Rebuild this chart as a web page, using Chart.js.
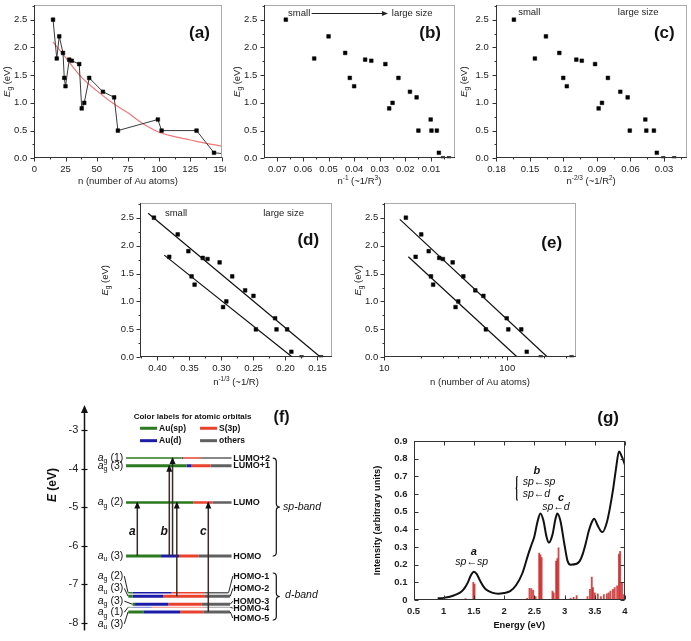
<!DOCTYPE html>
<html>
<head>
<meta charset="utf-8">
<script src="https://cdn.jsdelivr.net/npm/chart.js@4.4.1/dist/chart.umd.min.js"></script>
<style>
html,body{margin:0;padding:0;background:#fff;overflow:hidden;}
#wrap{position:relative;width:691px;height:641px;background:#fff;}
#wrap canvas{position:absolute;}
</style>
</head>
<body>
<div id="wrap"></div>
<script>
// ================= DATA =================
// Au cluster sizes and HOMO-LUMO gaps (panels a-e)
const clusterSizes = [15,18,20,23,24,25,28,30,36,38,40,44,55,64,67,99,102,130,144,187,333];
const gapEnergies  = [2.5,1.8,2.2,1.9,1.45,1.3,1.78,1.76,1.7,0.9,1.0,1.45,1.2,1.1,0.5,0.7,0.5,0.5,0.1,0,0];
const invSize   = [0.0667,0.0556,0.0500,0.0435,0.0417,0.0400,0.0357,0.0333,0.0278,0.0263,0.0250,0.0227,0.0182,0.0156,0.0149,0.0101,0.0098,0.0077,0.0069,0.0053,0.0030];
const invSize23 = [0.1644,0.1456,0.1357,0.1237,0.1202,0.1170,0.1085,0.1036,0.0917,0.0885,0.0855,0.0802,0.0691,0.0625,0.0606,0.0467,0.0458,0.0390,0.0364,0.0306,0.0208];
const invSize13 = [0.4055,0.3816,0.3684,0.3517,0.3467,0.3420,0.3293,0.3218,0.3029,0.2975,0.2924,0.2832,0.2630,0.2500,0.2462,0.2162,0.2140,0.1974,0.1908,0.1749,0.1443];
// red decay curve in (a)
const fitN  = [15,25,37.5,50,62.5,75,87.5,100,112.5,125,137.5,150];
const fitEg = [2.10,1.82,1.47,1.22,1.00,0.82,0.62,0.47,0.39,0.33,0.27,0.22];
// straight fits in (d) and (e)
const fitDUpperX = [0.4146,0.145], fitDUpperY = [2.58,0];
const fitDLowerX = [0.3894,0.189], fitDLowerY = [1.83,0];
const fitEUpperN = [13.4,213],     fitEUpperY = [2.47,0];
const fitELowerN = [15.7,121],     fitELowerY = [1.80,0];
// tick labels
const ticksA  = [0,25,50,75,100,125,150];
const ticksEg = [0,0.5,1.0,1.5,2.0,2.5];
const ticksB  = [0.07,0.06,0.05,0.04,0.03,0.02,0.01];
const ticksC  = [0.18,0.15,0.12,0.09,0.06,0.03];
const ticksD  = [0.40,0.35,0.30,0.25,0.20,0.15];
const ticksE  = [10,100];
const ticksF  = [-8,-7,-6,-5,-4,-3];
const ticksGx = [0.5,1,1.5,2,2.5,3,3.5,4];
const ticksGy = [0,0.1,0.2,0.3,0.4,0.5,0.6,0.7,0.8,0.9];

// Energy levels (panel f)
const levelNames    = ['LUMO+2','LUMO+1','LUMO','HOMO','HOMO-1','HOMO-2','HOMO-3','HOMO-4','HOMO-5'];
const levelEnergies = [-3.73,-3.93,-4.88,-6.27,-7.22,-7.31,-7.52,-7.60,-7.72];
const levelSymLetter = ['g','g','g','u','g','u','g','g','u'];
const levelSymCount  = ['1','3','2','3','2','3','3','1','3'];
// orbital composition along each level: start | Au(sp) | Au(d) | S(3p) | others (end)
const orbitalSegments = [
  [16.7,38.9,39.5,46.7,58.9],
  [16.7,40.9,42.9,50.5,58.9],
  [16.7,43.6,43.6,51.3,58.9],
  [16.7,30.7,37.9,45.6,58.9],
  [17.6,19.3,34.9,47.9,57.6],
  [17.6,19.3,31.6,48.3,58.3],
  [19.3,20.3,33.6,47.0,58.3],
  [17.6,19.3,27.0,47.6,58.3],
  [17.6,23.6,38.3,47.6,58.3]
];
const orbitalLabels = ['Au(sp)','Au(d)','S(3p)','others'];
const transitionNames = ['a','b','b','b','c'];
const transitionX     = [21.2,34.0,35.3,37.0,49.6];
const transitionFrom  = [-6.27,-6.27,-6.27,-7.31,-7.72];
const transitionTo    = [-4.88,-3.93,-3.73,-4.88,-4.88];

// Absorption spectrum (panel g)
const spectrumE = [0.9,1.0,1.1,1.2,1.3,1.35,1.4,1.45,1.5,1.55,1.6,1.65,1.7,1.8,1.9,2.0,2.1,2.2,2.3,2.4,2.45,2.5,2.55,2.6,2.65,2.7,2.74,2.8,2.85,2.88,2.93,3.0,3.05,3.1,3.2,3.25,3.3,3.35,3.4,3.45,3.49,3.55,3.6,3.63,3.7,3.75,3.8,3.85,3.9,3.95,4.0];
const spectrumI = [0.01,0.012,0.018,0.03,0.05,0.07,0.10,0.14,0.16,0.145,0.11,0.08,0.06,0.042,0.036,0.04,0.05,0.085,0.15,0.26,0.31,0.36,0.44,0.49,0.45,0.36,0.325,0.37,0.46,0.49,0.45,0.31,0.22,0.20,0.205,0.22,0.26,0.32,0.39,0.44,0.46,0.42,0.39,0.385,0.44,0.52,0.62,0.74,0.84,0.81,0.765];
const stickE = [1.36,1.49,1.51,2.38,2.42,2.45,2.48,2.52,2.58,2.60,2.62,2.80,2.82,2.86,2.88,2.90,3.10,3.15,3.20,3.38,3.42,3.45,3.47,3.50,3.55,3.60,3.65,3.70,3.73,3.76,3.80,3.83,3.87,3.90,3.92,3.95,3.98];
const stickI = [0.008,0.10,0.09,0.01,0.066,0.065,0.055,0.02,0.265,0.255,0.24,0.05,0.04,0.22,0.235,0.295,0.01,0.015,0.025,0.02,0.06,0.13,0.07,0.04,0.035,0.02,0.03,0.035,0.04,0.05,0.06,0.07,0.08,0.26,0.275,0.10,0.03];

// ================= HELPERS =================
const FONT = '"Liberation Sans", Arial, Helvetica, sans-serif';
Chart.defaults.font.family = FONT;
Chart.defaults.color = '#222';
const wrap = document.getElementById('wrap');
function makeCanvas(left, top, w, h) {
  const c = document.createElement('canvas');
  c.width = w; c.height = h;
  Object.assign(c.style, {left: left + 'px', top: top + 'px', width: w + 'px', height: h + 'px'});
  wrap.appendChild(c);
  return c;
}
const pts = (xs, ys) => xs.map((x, i) => ({x: x, y: ys[i]}));
function P(t, o) { return Object.assign({t: t}, o || {}); }
function fontStr(p, b) {
  const size = (p.s === 'sub' || p.s === 'sup') ? b.size * 0.68 : b.size;
  const it = (p.i || b.italic) ? 'italic ' : '';
  const wt = (p.b || b.weight === 'bold') ? 'bold ' : '';
  return it + wt + size + 'px ' + FONT;
}
function drawRich(ctx, parts, x, y, b) {
  ctx.save();
  ctx.translate(x, y);
  if (b.rotate) ctx.rotate(-Math.PI / 2);
  let w = 0;
  parts.forEach(p => { ctx.font = fontStr(p, b); w += ctx.measureText(p.t).width; });
  let cx = b.align === 'left' ? 0 : (b.align === 'right' ? -w : -w / 2);
  ctx.textBaseline = 'middle'; ctx.textAlign = 'left';
  ctx.fillStyle = b.color || '#222';
  parts.forEach(p => {
    ctx.font = fontStr(p, b);
    const dy = p.s === 'sub' ? b.size * 0.32 : (p.s === 'sup' ? -b.size * 0.38 : 0);
    ctx.fillText(p.t, cx, dy);
    cx += ctx.measureText(p.t).width;
  });
  ctx.restore();
}
function seg(ctx, x1, y1, x2, y2) { ctx.beginPath(); ctx.moveTo(x1, y1); ctx.lineTo(x2, y2); ctx.stroke(); }
function arrowHead(ctx, x, y, dir, len, half) {
  ctx.beginPath();
  if (dir === 'up') { ctx.moveTo(x, y); ctx.lineTo(x - half, y + len); ctx.lineTo(x + half, y + len); }
  else { ctx.moveTo(x, y); ctx.lineTo(x - len, y - half); ctx.lineTo(x - len, y + half); }
  ctx.closePath(); ctx.fill();
}
function brace(ctx, x, y1, y2, w, left) {
  const s = left ? -1 : 1, ym = (y1 + y2) / 2, h = w / 2;
  ctx.beginPath();
  ctx.moveTo(x, y1);
  ctx.quadraticCurveTo(x + s * h, y1, x + s * h, y1 + h);
  ctx.lineTo(x + s * h, ym - h);
  ctx.quadraticCurveTo(x + s * h, ym, x + s * w, ym);
  ctx.quadraticCurveTo(x + s * h, ym, x + s * h, ym + h);
  ctx.lineTo(x + s * h, y2 - h);
  ctx.quadraticCurveTo(x + s * h, y2, x, y2);
  ctx.stroke();
}
function makeDeco(spec) {
  return {
    id: 'deco',
    afterDatasetsDraw(chart) {
      const ctx = chart.ctx, a = chart.chartArea, xs = chart.scales.x, ys = chart.scales.y;
      const X = v => xs.getPixelForValue(v), Y = v => ys.getPixelForValue(v);
      const L = Math.round(a.left) + 0.5, R = Math.round(a.right) - 0.5;
      const T = Math.round(a.top) + 0.5, B = Math.round(a.bottom) - 0.5;
      ctx.save();
      ctx.lineWidth = 1;
      if (spec.frame) { ctx.strokeStyle = spec.frame; ctx.strokeRect(L, T, R - L, B - T); }
      if (spec.axis) {
        ctx.strokeStyle = spec.axis;
        seg(ctx, L, T - 0.5, L, B + 0.5); seg(ctx, L - 0.5, B, R + 0.5, B);
        const d = spec.inward ? 1 : -1;
        const tx = (vals, len) => (vals || []).forEach(v => {
          const p = Math.round(X(v)) + 0.5;
          if (p < a.left - 1 || p > a.right + 1) return;
          seg(ctx, p, B, p, B - d * len);
          if (spec.mirror) seg(ctx, p, T, p, T + d * len);
        });
        const ty = (vals, len) => (vals || []).forEach(v => {
          const p = Math.round(Y(v)) + 0.5;
          if (p < a.top - 1 || p > a.bottom + 1) return;
          seg(ctx, L, p, L + d * len, p);
          if (spec.mirror) seg(ctx, R, p, R - d * len, p);
        });
        tx(spec.xMajor, spec.majorLen || 4); tx(spec.xMinor, spec.minorLen || 2);
        ty(spec.yMajor, spec.majorLen || 4); ty(spec.yMinor, spec.minorLen || 2);
      }
      if (spec.extra) spec.extra(ctx, chart, X, Y);
      (spec.texts || []).forEach(t => {
        const x = t.xv !== undefined ? X(t.xv) : (t.x === 'mid' ? (a.left + a.right) / 2 : t.x);
        const y = t.yv !== undefined ? Y(t.yv) : (t.y === 'mid' ? (a.top + a.bottom) / 2 : t.y);
        drawRich(ctx, t.parts, x, y, t);
      });
      ctx.restore();
    }
  };
}
function axis(o) {
  return {
    type: o.type || 'linear', min: o.min, max: o.max, reverse: !!o.reverse, offset: false,
    display: o.display === undefined ? true : o.display,
    grid: {display: false, drawTicks: false, offset: false}, border: {display: false},
    ticks: {autoSkip: false, maxRotation: 0, minRotation: 0, padding: o.pad || 4, includeBounds: false,
      font: {size: o.size || 9.5, weight: o.weight || 'normal'}, color: '#222',
      callback: o.fmt || (v => String(v))},
    afterBuildTicks: s => { if (o.ticks) s.ticks = o.ticks.map(v => ({value: v})); },
    afterFit: s => {
      if (o.w !== undefined) s.width = o.w;
      if (o.h !== undefined) s.height = o.h;
      s.paddingLeft = 0; s.paddingRight = 0; s.paddingTop = 0; s.paddingBottom = 0;
    }
  };
}
function opts(padding, x, y) {
  return {
    responsive: false, maintainAspectRatio: false, animation: false, devicePixelRatio: 1, events: [],
    layout: {padding: padding},
    plugins: {legend: {display: false}, tooltip: {enabled: false}, title: {display: false}},
    scales: {x: x, y: y}
  };
}
const EG = [P('E', {i: 1}), P('g', {s: 'sub'}), P(' (eV)')];
const T_N = [P('n (number of Au atoms)')];
const T_INV1 = [P('n'), P('-1', {s: 'sup'}), P(' (~1/R'), P('3', {s: 'sup'}), P(')')];
const T_INV23 = [P('n'), P('-2/3', {s: 'sup'}), P(' (~1/R'), P('2', {s: 'sup'}), P(')')];
const T_INV13 = [P('n'), P('-1/3', {s: 'sup'}), P(' (~1/R)')];
const FS = 9.5;
const squares = {pointStyle: 'rect', pointRadius: 2.6, pointBackgroundColor: '#000', pointBorderColor: '#000', pointBorderWidth: 0.5};
const fmt1 = v => v.toFixed(1), fmt2 = v => v.toFixed(2);
const eMinor = [0.25, 0.75, 1.25, 1.75, 2.25, 2.75];
function label(parts, pos, style) { return Object.assign({parts: parts, size: FS}, pos, style || {}); }

// ================= PANEL (a) =================
new Chart(makeCanvas(0, 0, 226, 195), {
  type: 'scatter',
  data: {datasets: [
    {data: pts(fitN, fitEg), showLine: true, borderColor: '#f07878', borderWidth: 1.2, pointRadius: 0, cubicInterpolationMode: 'monotone', order: 2},
    Object.assign({data: pts(clusterSizes, gapEnergies), showLine: true, borderColor: '#3a3a3a', borderWidth: 1, order: 1}, squares)
  ]},
  options: opts({left: 0, top: 5, right: 1, bottom: 0},
    axis({min: 0, max: 150, ticks: ticksA, h: 36.7, pad: 5}),
    axis({min: 0, max: 2.765, ticks: ticksEg, w: 34.3, pad: 7, fmt: fmt1})),
  plugins: [makeDeco({frame: '#aaa', axis: '#333', xMajor: ticksA, xMinor: [12.5, 37.5, 62.5, 87.5, 112.5, 137.5], yMajor: ticksEg, yMinor: eMinor,
    texts: [label(EG, {x: 7.5, y: 'mid'}, {rotate: true}), label(T_N, {x: 'mid', y: 181.7}),
      label([P('(a)')], {xv: 132.3, yv: 2.26}, {size: 17, weight: 'bold', color: '#111'})]})]
});

// ================= PANEL (b) =================
new Chart(makeCanvas(226, 0, 233, 195), {
  type: 'scatter',
  data: {datasets: [Object.assign({data: pts(invSize, gapEnergies)}, squares)]},
  options: opts({left: 0, top: 5, right: 3, bottom: 0},
    axis({min: 0.0008, max: 0.0751, reverse: true, ticks: ticksB, h: 36.7, pad: 5, fmt: fmt2}),
    axis({min: 0, max: 2.765, ticks: ticksEg, w: 38.3, pad: 7, fmt: fmt1})),
  plugins: [makeDeco({frame: '#aaa', axis: '#333', xMajor: ticksB, xMinor: [0.065, 0.055, 0.045, 0.035, 0.025, 0.015, 0.005], yMajor: ticksEg, yMinor: eMinor,
    extra: (ctx, ch, X, Y) => {
      ctx.strokeStyle = '#222'; ctx.fillStyle = '#222'; ctx.lineWidth = 1;
      const y = Math.round(Y(2.615)) + 0.5;
      seg(ctx, X(0.0566), y, X(0.0275), y);
      arrowHead(ctx, X(0.0268), y, 'right', 6, 2.6);
    },
    texts: [label(EG, {x: 11, y: 'mid'}, {rotate: true}), label(T_INV1, {x: 'mid', y: 181.7}),
      label([P('small')], {xv: 0.0658, yv: 2.615}, {align: 'left'}),
      label([P('large size')], {xv: 0.0253, yv: 2.615}, {align: 'left'}),
      label([P('(b)')], {xv: 0.0103, yv: 2.26}, {size: 17, weight: 'bold', color: '#111'})]})]
});

// ================= PANEL (c) =================
new Chart(makeCanvas(459, 0, 232, 195), {
  type: 'scatter',
  data: {datasets: [Object.assign({data: pts(invSize23, gapEnergies)}, squares)]},
  options: opts({left: 0, top: 5, right: 3.7, bottom: 0},
    axis({min: 0.0098, max: 0.1807, reverse: true, ticks: ticksC, h: 36.7, pad: 5, fmt: fmt2}),
    axis({min: 0, max: 2.765, ticks: ticksEg, w: 36.7, pad: 7, fmt: fmt1})),
  plugins: [makeDeco({frame: '#aaa', axis: '#333', xMajor: ticksC, xMinor: [0.165, 0.135, 0.105, 0.075, 0.045, 0.015], yMajor: ticksEg, yMinor: eMinor,
    texts: [label(EG, {x: 5, y: 'mid'}, {rotate: true}), label(T_INV23, {x: 'mid', y: 181.7}),
      label([P('small')], {xv: 0.1606, yv: 2.63}, {align: 'left'}),
      label([P('large size')], {xv: 0.0713, yv: 2.63}, {align: 'left'}),
      label([P('(c)')], {xv: 0.0297, yv: 2.26}, {size: 17, weight: 'bold', color: '#111'})]})]
});

// ================= PANEL (d) =================
new Chart(makeCanvas(95, 195, 245, 205), {
  type: 'scatter',
  data: {datasets: [
    {data: pts(fitDUpperX, fitDUpperY), showLine: true, borderColor: '#111', borderWidth: 1.2, pointRadius: 0},
    {data: pts(fitDLowerX, fitDLowerY), showLine: true, borderColor: '#111', borderWidth: 1.2, pointRadius: 0},
    Object.assign({data: pts(invSize13, gapEnergies)}, squares)
  ]},
  options: opts({left: 0, top: 8.3, right: 8, bottom: 0},
    axis({min: 0.1273, max: 0.4273, reverse: true, ticks: ticksD, h: 42.7, pad: 5, fmt: fmt2}),
    axis({min: 0, max: 2.758, ticks: ticksEg, w: 45, pad: 6, fmt: fmt1})),
  plugins: [makeDeco({frame: '#aaa', axis: '#333', xMajor: ticksD, xMinor: [0.425, 0.375, 0.325, 0.275, 0.225, 0.175], yMajor: ticksEg, yMinor: eMinor,
    texts: [label(EG, {x: 10, y: 'mid'}, {rotate: true}), label(T_INV13, {x: 'mid', y: 187.7}),
      label([P('small')], {xv: 0.3883, yv: 2.58}, {align: 'left'}),
      label([P('large size')], {xv: 0.2347, yv: 2.58}, {align: 'left'}),
      label([P('(d)')], {xv: 0.1644, yv: 2.10}, {size: 17, weight: 'bold', color: '#111'})]})]
});

// ================= PANEL (e) =================
new Chart(makeCanvas(340, 195, 245, 205), {
  type: 'scatter',
  data: {datasets: [
    {data: pts(fitEUpperN, fitEUpperY), showLine: true, borderColor: '#111', borderWidth: 1.2, pointRadius: 0},
    {data: pts(fitELowerN, fitELowerY), showLine: true, borderColor: '#111', borderWidth: 1.2, pointRadius: 0},
    Object.assign({data: pts(clusterSizes, gapEnergies)}, squares)
  ]},
  options: opts({left: 0, top: 8.3, right: 9.3, bottom: 0},
    axis({type: 'logarithmic', min: 10, max: 360, ticks: ticksE, h: 42.7, pad: 5}),
    axis({min: 0, max: 2.758, ticks: ticksEg, w: 44.2, pad: 6, fmt: fmt1})),
  plugins: [makeDeco({frame: '#aaa', axis: '#333', xMajor: ticksE, xMinor: [20, 30, 40, 50, 60, 70, 80, 90, 200, 300], yMajor: ticksEg, yMinor: eMinor,
    texts: [label(EG, {x: 18, y: 'mid'}, {rotate: true}), label(T_N, {x: 'mid', y: 187.7}),
      label([P('(e)')], {xv: 230, yv: 2.04}, {size: 17, weight: 'bold', color: '#111'})]})]
});

// ================= PANEL (f) =================
const orbitalColors = ['#2b7a1e', '#1c1ca8', '#e8412c', '#606060'];
const fadedColors = ['rgba(43,122,30,0.45)', 'rgba(28,28,168,0.45)', 'rgba(232,65,44,0.45)', 'rgba(96,96,96,0.45)'];
const levelWidths = [1.5, 3, 2.5, 3, 1.5, 3, 3, 1.2, 3];
const levelFaded = [false, false, false, false, false, false, false, true, false];
const leftLabelE = [-3.73, -3.93, -4.88, -6.27, -6.79, -7.11, -7.44, -7.73, -8.03];
const rightLabelE = [-3.73, -3.93, -4.88, -6.27, -6.79, -7.11, -7.44, -7.62, -7.88];
const fDatasets = [];
transitionX.forEach((u, i) => fDatasets.push({data: [{x: u, y: transitionFrom[i]}, {x: u, y: transitionTo[i]}], showLine: true, borderColor: '#3b2a2a', borderWidth: 1.5, pointRadius: 0}));
levelEnergies.forEach((E, i) => {
  const b = orbitalSegments[i];
  for (let k = 0; k < 4; k++) {
    if (b[k + 1] > b[k]) fDatasets.push({data: [{x: b[k], y: E}, {x: b[k + 1], y: E}], showLine: true,
      borderColor: levelFaded[i] ? fadedColors[k] : orbitalColors[k], borderWidth: levelWidths[i], pointRadius: 0, borderCapStyle: 'butt'});
  }
});
const fTexts = [
  label([P('E', {i: 1}), P(' (eV)')], {x: 53, yv: -4.43}, {rotate: true, size: 12, weight: 'bold', color: '#111'}),
  label([P('(f)')], {xv: 78.9, yv: -2.69}, {size: 16, weight: 'bold', color: '#111'}),
  label([P('Color labels for atomic orbitals')], {xv: 43.3, yv: -2.66}, {size: 8, weight: 'bold', color: '#111'}),
  label([P(orbitalLabels[0])], {xv: 29.9, yv: -2.956}, {size: 8.5, weight: 'bold', align: 'left', color: '#111'}),
  label([P(orbitalLabels[2])], {xv: 53.9, yv: -2.956}, {size: 8.5, weight: 'bold', align: 'left', color: '#111'}),
  label([P(orbitalLabels[1])], {xv: 29.9, yv: -3.278}, {size: 8.5, weight: 'bold', align: 'left', color: '#111'}),
  label([P(orbitalLabels[3])], {xv: 53.9, yv: -3.278}, {size: 8.5, weight: 'bold', align: 'left', color: '#111'}),
  label([P('sp-band')], {xv: 79.5, yv: -5.0}, {size: 10.5, italic: true, align: 'left', color: '#111'}),
  label([P('d-band')], {xv: 80.3, yv: -7.28}, {size: 10.5, italic: true, align: 'left', color: '#111'})
];
const abcX = {a: 19.2, b: 31.9, c: 47.6};
Object.keys(abcX).forEach(k => fTexts.push(label([P(k)], {xv: abcX[k], yv: -5.64}, {size: 12, weight: 'bold', italic: true, color: '#111'})));
levelNames.forEach((n, i) => {
  fTexts.push(label([P(n)], {xv: 59.6, yv: rightLabelE[i]}, {size: 9, weight: 'bold', align: 'left', color: '#111'}));
  fTexts.push(label([P('a', {i: 1}), P(levelSymLetter[i], {s: 'sub'}), P(' (' + levelSymCount[i] + ')')], {xv: 15.6, yv: leftLabelE[i]}, {size: 10.5, align: 'right', color: '#111'}));
});
new Chart(makeCanvas(0, 400, 345, 241), {
  type: 'scatter',
  data: {datasets: fDatasets},
  options: opts({left: 0, top: 4.9, right: 10.7, bottom: 6.7},
    axis({min: 0, max: 100, display: false}),
    axis({min: -8.3, max: -2.35, ticks: ticksF, w: 84.3, pad: 6, size: 11})),
  plugins: [makeDeco({
    extra: (ctx, ch, X, Y) => {
      const a = ch.chartArea, L = Math.round(a.left) + 0.5;
      ctx.strokeStyle = '#111'; ctx.fillStyle = '#111'; ctx.lineWidth = 1.5;
      seg(ctx, L, Y(-8.2), L, a.top + 6);
      arrowHead(ctx, L, a.top, 'up', 8, 3.5);
      ctx.lineWidth = 1.2;
      ticksF.forEach(e => { const y = Math.round(Y(e)) + 0.5; seg(ctx, L - 3, y, L + 3, y); });
      transitionX.forEach((u, i) => arrowHead(ctx, X(u), Y(transitionTo[i]) - 1, 'up', 7, 3));
      // legend swatches
      ctx.lineWidth = 3;
      [[22.3, -2.956, 0], [46.3, -2.956, 2], [22.3, -3.278, 1], [46.3, -3.278, 3]].forEach(s => {
        ctx.strokeStyle = orbitalColors[s[2]]; seg(ctx, X(s[0]), Y(s[1]), X(s[0] + 6.8), Y(s[1]));
      });
      // connectors for the crowded d-band levels
      ctx.strokeStyle = '#222'; ctx.lineWidth = 1;
      for (let i = 4; i < levelEnergies.length; i++) {
        seg(ctx, X(16.0), Y(leftLabelE[i]), X(orbitalSegments[i][0] - 0.1), Y(levelEnergies[i]));
        seg(ctx, X(orbitalSegments[i][4] + 0.1), Y(levelEnergies[i]), X(59.4), Y(rightLabelE[i]));
      }
      // braces
      ctx.strokeStyle = '#111'; ctx.lineWidth = 1.2;
      brace(ctx, X(75.4), Y(-3.73), Y(-6.27), X(78.2) - X(75.4));
      brace(ctx, X(75.4), Y(-6.71), Y(-7.93), X(78.2) - X(75.4));
    },
    texts: fTexts
  })]
});

// ================= PANEL (g) =================
const SPARR = '\u2190';
new Chart(makeCanvas(345, 400, 346, 241), {
  type: 'bar',
  data: {datasets: [
    {type: 'line', data: pts(spectrumE, spectrumI), borderColor: '#111', borderWidth: 2, pointRadius: 0, cubicInterpolationMode: 'monotone', order: 0},
    {type: 'bar', data: pts(stickE, stickI), backgroundColor: 'rgba(200,30,30,0.8)', barThickness: 1.2, order: 1}
  ]},
  options: opts({left: 0, top: 41, right: 66, bottom: 0},
    axis({min: 0.5, max: 4, ticks: ticksGx, h: 41, pad: 6, size: 9.5, weight: 'bold'}),
    axis({min: 0, max: 0.9, ticks: ticksGy, w: 68.5, pad: 6, size: 9.5, weight: 'bold', fmt: v => v === 0 ? '0' : v.toFixed(1)})),
  plugins: [makeDeco({frame: '#333', axis: '#333', inward: true, mirror: true, xMajor: ticksGx, yMajor: ticksGy, majorLen: 4,
    extra: (ctx, ch, X, Y) => {
      ctx.strokeStyle = '#111'; ctx.lineWidth = 1.2;
      brace(ctx, X(2.225), Y(0.70), Y(0.565), X(2.225) - X(2.19), true);
    },
    texts: [
      label([P('Intensity (arbitrary units)')], {x: 32.3, y: 'mid'}, {rotate: true, size: 9.3, weight: 'bold', color: '#111'}),
      label([P('Energy (eV)')], {x: 'mid', y: 225}, {size: 9.3, weight: 'bold', color: '#111'}),
      label([P('(g)')], {xv: 3.72, yv: 1.03}, {size: 17, weight: 'bold', color: '#111'}),
      label([P('a')], {xv: 1.5, yv: 0.273}, {size: 11, weight: 'bold', italic: true, color: '#111'}),
      label([P('sp' + SPARR + 'sp')], {xv: 1.463, yv: 0.213}, {size: 10.5, italic: true, color: '#111'}),
      label([P('b')], {xv: 2.54, yv: 0.73}, {size: 11, weight: 'bold', italic: true, color: '#111'}),
      label([P('sp' + SPARR + 'sp')], {xv: 2.307, yv: 0.67}, {size: 10.5, italic: true, align: 'left', color: '#111'}),
      label([P('sp' + SPARR + 'd')], {xv: 2.307, yv: 0.598}, {size: 10.5, italic: true, align: 'left', color: '#111'}),
      label([P('c')], {xv: 2.94, yv: 0.575}, {size: 11, weight: 'bold', italic: true, color: '#111'}),
      label([P('sp' + SPARR + 'd')], {xv: 2.858, yv: 0.528}, {size: 10.5, italic: true, color: '#111'})
    ]})]
});
</script>
</body>
</html>
